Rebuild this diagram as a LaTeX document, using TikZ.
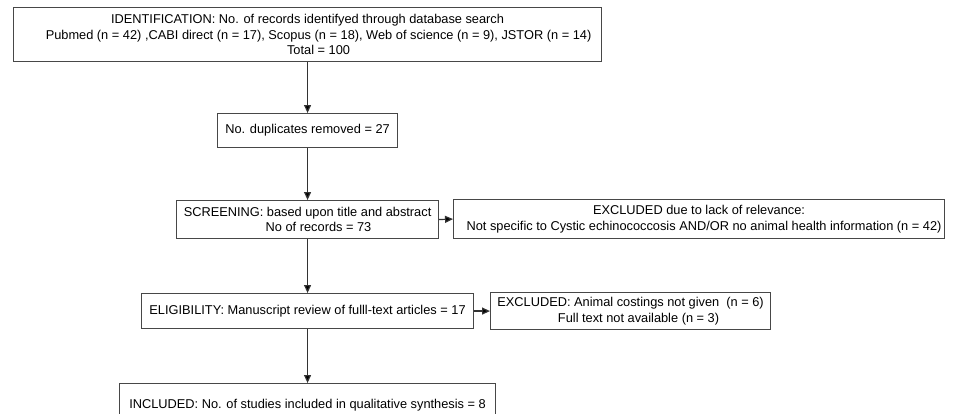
\documentclass[tikz,border=0pt]{standalone}
\usepackage{fontspec}
\setmainfont{Liberation Sans}
\usetikzlibrary{arrows.meta}
\begin{document}
\begin{tikzpicture}[x=1pt,y=-1pt,
  box/.style={draw=black!72, line width=1.1pt, inner sep=0pt, align=center, anchor=north west,
    font=\fontsize{12.8}{15.6}\selectfont},
  conn/.style={draw=black!80, line width=1.2pt, -{Triangle[length=8pt,width=7pt,fill=black]}}]
\useasboundingbox (0,0) rectangle (976,413);
\node[box, minimum width=588pt, minimum height=54pt] (id) at (13,7)
  {IDENTIFICATION: No. of records identifyed through database search\\
   \hspace*{22pt}Pubmed (n = 42) ,CABI direct (n = 17), Scopus (n = 18), Web of science (n = 9), JSTOR (n = 14)\\
   \hspace*{22pt}Total = 100};
\node[box, minimum width=180pt, minimum height=34pt] (dup) at (217,113)
  {No. duplicates removed = 27};
\node[box, minimum width=262pt, minimum height=38pt] (scr) at (176,200)
  {SCREENING: based upon title and abstract\\
   \hspace*{22pt}No of records = 73};
\node[box, minimum width=491pt, minimum height=39pt] (exc1) at (453,199)
  {EXCLUDED due to lack of relevance:\\
   \hspace*{10pt}Not specific to Cystic echinococcosis AND/OR no animal health information (n = 42)};
\node[box, minimum width=332pt, minimum height=35pt] (elig) at (141,293)
  {ELIGIBILITY: Manuscript review of fulll-text articles = 17};
\node[box, minimum width=280pt, minimum height=37pt] (exc2) at (490,292)
  {EXCLUDED: Animal costings not given\ \ (n = 6)\\
   \hspace*{16pt}Full text not available (n = 3)};
\node[box, minimum width=376pt, minimum height=44pt] (inc) at (119,383)
  {INCLUDED: No. of studies included in qualitative synthesis = 8};
\draw[conn] (id.south) -- (dup.north);
\draw[conn] (dup.south) -- (scr.north);
\draw[conn] (scr.south) -- (elig.north);
\draw[conn] (elig.south) -- (inc.north);
\draw[conn] (scr.east) -- (exc1.west);
\draw[conn] (elig.east) -- (exc2.west);
\end{tikzpicture}
\end{document}
